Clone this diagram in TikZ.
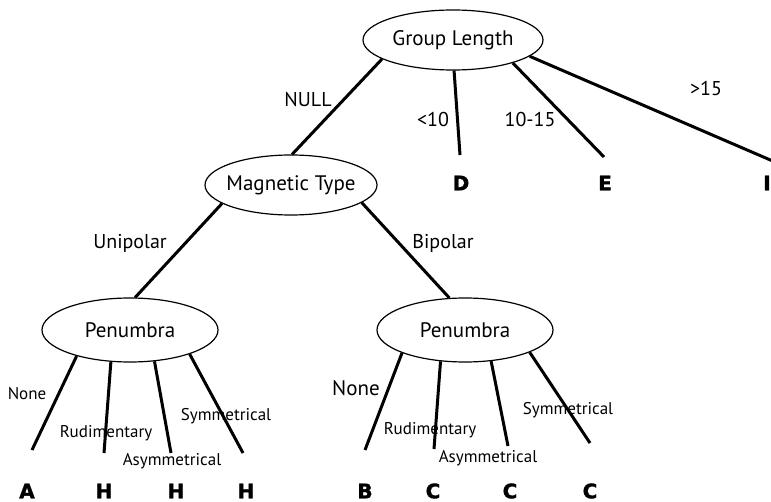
\documentclass[tikz,border=0pt]{standalone}
\usepackage{fontspec}
\setmainfont{PT Sans}
\newfontfamily\leaffont[FakeBold=1.6]{DejaVu Sans Bold}
\usetikzlibrary{shapes.geometric}

\begin{document}
\begin{tikzpicture}[x=1pt,y=-1pt,
  attr/.style={draw,ellipse,line width=1.2pt,inner sep=0pt,font=\fontsize{21}{24}\selectfont},
  branch/.style={line width=3pt},
  lbl/.style={font=\fontsize{20}{23}\selectfont,inner sep=0pt},
  slbl/.style={font=\fontsize{17}{20}\selectfont,inner sep=0pt},
  leaf/.style={font=\leaffont\fontsize{20}{23}\selectfont,inner sep=0pt}]
  \useasboundingbox (0,0) rectangle (771,502);
  % attribute nodes
  \node[attr,minimum width=180pt,minimum height=60pt] (gl) at (453,40) {Group Length};
  \node[attr,inner xsep=-5pt,minimum width=172pt,minimum height=60pt] (mt) at (291,185) {Magnetic Type};
  \node[attr,minimum width=176pt,minimum height=64pt] (pl) at (130,330) {Penumbra};
  \node[attr,minimum width=176pt,minimum height=64pt] (pr) at (465,330) {Penumbra};
  % leaves
  \node[leaf] (d) at (461,183) {D};
  \node[leaf] (e) at (605,183) {E};
  \node[leaf] (f) at (767,183) {I};
  \node[leaf] (a) at (27,491) {A};
  \node[leaf] (h1) at (104,491) {H};
  \node[leaf] (h2) at (176,491) {H};
  \node[leaf] (h3) at (246,491) {H};
  \node[leaf] (b) at (365,491) {B};
  \node[leaf] (c1) at (433,491) {C};
  \node[leaf] (c2) at (510,491) {C};
  \node[leaf] (c3) at (590,491) {C};
  % branch ends above the leaves
  \coordinate (dend) at (460,155);
  \coordinate (eend) at (604,157);
  \coordinate (fend) at (775,162);
  \coordinate (aend) at (32,450);
  \coordinate (h1end) at (104,453);
  \coordinate (h2end) at (171,453);
  \coordinate (h3end) at (243,453);
  \coordinate (bend) at (365,450);
  \coordinate (c1end) at (434,449);
  \coordinate (c2end) at (508,446);
  \coordinate (c3end) at (590,443);
  % branches
  \draw[branch] (gl.195) -- (mt.88);
  \draw[branch] (gl.272) -- (dend);
  \draw[branch] (gl.339.5) -- (eend);
  \draw[branch] (gl.348) -- (fend);
  \draw[branch] (mt.195) -- (pl.81);
  \draw[branch] (mt.346) -- (pr.116.6);
  \draw[branch] (pl.206.6) -- (aend);
  \draw[branch] (pl.239.3) -- (h1end);
  \draw[branch] (pl.308) -- (h2end);
  \draw[branch] (pl.338) -- (h3end);
  \draw[branch] (pr.200.4) -- (bend);
  \draw[branch] (pr.232) -- (c1end);
  \draw[branch] (pr.310) -- (c2end);
  \draw[branch] (pr.341.8) -- (c3end);
  % branch labels
  \node[lbl] (null) at (308,100) {NULL};
  \node[lbl] (lt10) at (433,120) {<10};
  \node[lbl] (mid) at (530,120) {10-15};
  \node[lbl] (gt15) at (706,89) {>15};
  \node[lbl] (uni) at (130,243) {Unipolar};
  \node[lbl] (bi) at (443,243) {Bipolar};
  \node[slbl] (nonel) at (27,394) {None};
  \node[slbl] (rudl) at (106,433) {Rudimentary};
  \node[slbl] (asyml) at (172,461) {Asymmetrical};
  \node[slbl] (syml) at (226,416) {Symmetrical};
  \node[lbl,font=\fontsize{21}{24}\selectfont] (noner) at (356,388) {None};
  \node[slbl] (rudr) at (430,430) {Rudimentary};
  \node[slbl] (asymr) at (488,458) {Asymmetrical};
  \node[slbl] (symr) at (568,410) {Symmetrical};
\end{tikzpicture}
\end{document}
